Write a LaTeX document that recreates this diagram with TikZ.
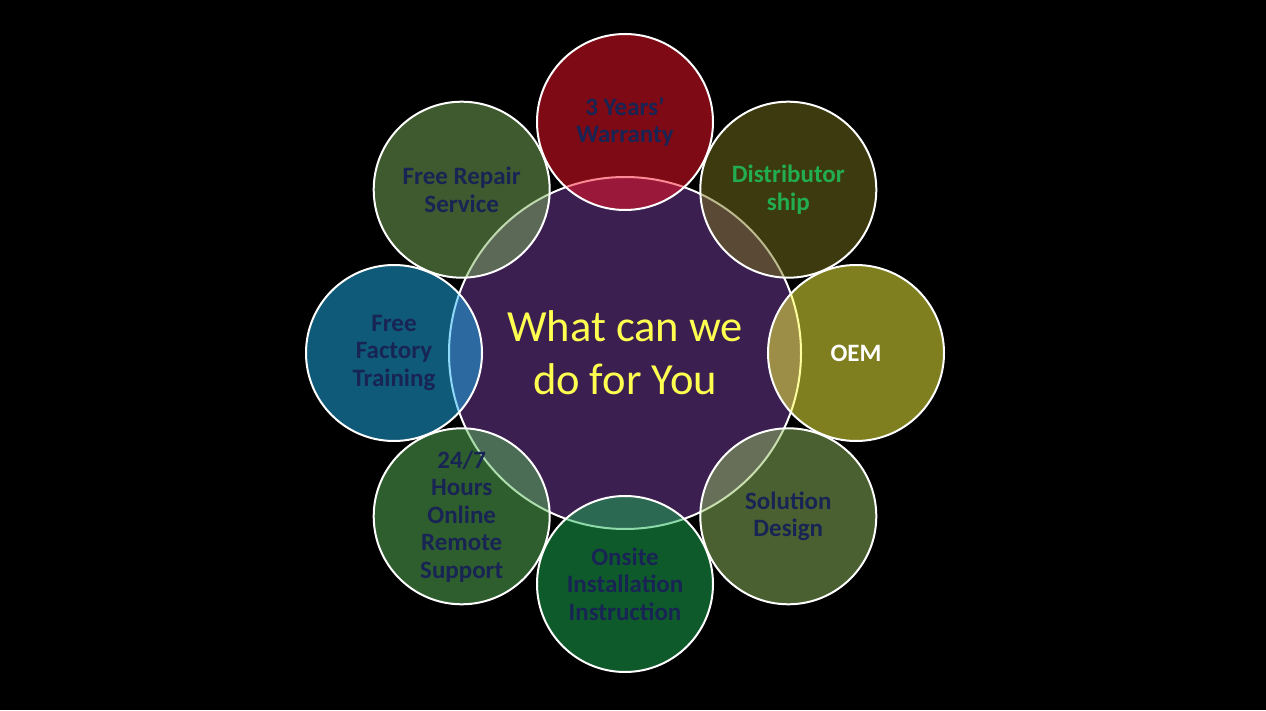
\documentclass[tikz,border=0pt]{standalone}
\usepackage{fontspec}
\setmainfont{Carlito}
\usepackage{tikz}

\definecolor{hubpurple}{RGB}{59,31,80}
\definecolor{hubyellow}{RGB}{255,255,80}
\definecolor{labelnavy}{RGB}{24,36,84}
\definecolor{distgreen}{RGB}{34,174,80}
\definecolor{cWarranty}{RGB}{250,20,40}
\definecolor{cDist}{RGB}{120,116,28}
\definecolor{cOEM}{RGB}{254,254,62}
\definecolor{cSolution}{RGB}{148,192,96}
\definecolor{cOnsite}{RGB}{30,180,84}
\definecolor{cSupport}{RGB}{92,188,92}
\definecolor{cFactory}{RGB}{30,180,240}
\definecolor{cRepair}{RGB}{124,180,92}

\tikzset{
  hub/.style={circle, draw=white, line width=2pt, fill=hubpurple,
    minimum size=352pt, inner sep=0pt, text=hubyellow, align=center,
    font=\fontsize{44.5}{53}\selectfont},
  petal/.style={circle, draw=white, line width=2pt, fill opacity=0.5,
    text opacity=1, minimum size=176pt, inner sep=0pt, align=center,
    text=labelnavy, font=\fontsize{25}{27.5}\selectfont\bfseries}
}

\begin{document}
\begin{tikzpicture}[x=1pt,y=1pt]
  \fill[black] (0,0) rectangle (1266,710);
  \useasboundingbox (0,0) rectangle (1266,710);
  \node [hub](hub) at (625,357) {What can we\\do for You};
  \node [petal, fill=cWarranty](warranty) at (625,588) {3 Years'\\Warranty};
  \node [petal, fill=cDist, text=distgreen](dist) at (788.3,520.3) {Distributor\\ship};
  \node [petal, fill=cOEM, text=white](oem) at (856,357) {OEM};
  \node [petal, fill=cSolution](solution) at (788.3,193.7) {Solution\\Design};
  \node [petal, fill=cOnsite](onsite) at (625,126) {Onsite\\Installation\\Instruction};
  \node [petal, fill=cSupport](support) at (461.7,193.7) {24/7\\Hours\\Online\\Remote\\Support};
  \node [petal, fill=cFactory](factory) at (394,357) {Free\\Factory\\Training};
  \node [petal, fill=cRepair](repair) at (461.7,520.3) {Free Repair\\Service};
\end{tikzpicture}
\end{document}
